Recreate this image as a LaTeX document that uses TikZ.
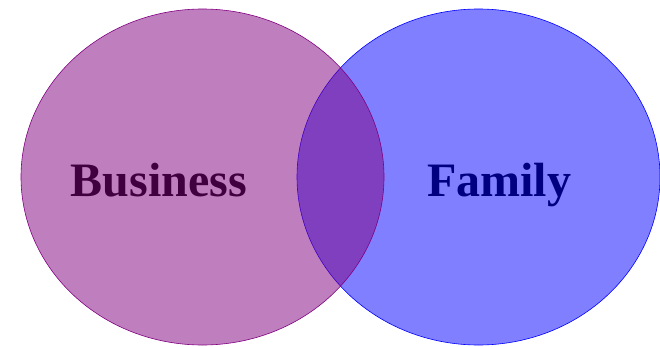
\documentclass[tikz,border=0pt]{standalone}
\usepackage{fontspec}
\setmainfont{Liberation Serif}
\definecolor{bizfill}{HTML}{800080}
\definecolor{biztext}{HTML}{400040}
\definecolor{famtext}{HTML}{000080}
\tikzset{
  setshape/.style={ellipse, minimum width=363pt, minimum height=336pt, inner sep=0pt, fill opacity=0.5, line width=0.6pt},
  setlabel/.style={font=\fontsize{48}{52}\selectfont\bfseries, inner sep=0pt, anchor=base}
}
\usetikzlibrary{shapes.geometric}
\begin{document}
\begin{tikzpicture}[x=1pt,y=1pt]
\useasboundingbox (0,0) rectangle (660,346);
\node[setshape, draw=blue, fill=blue] (fam) at (478.5,169) {};
\node[setshape, draw=bizfill, fill=bizfill] (biz) at (202.5,169) {};
\node[setlabel, text=biztext] (bizlabel) at (159,150) {Business};
\node[setlabel, text=famtext] (famlabel) at (499,150) {Family};
\end{tikzpicture}
\end{document}
